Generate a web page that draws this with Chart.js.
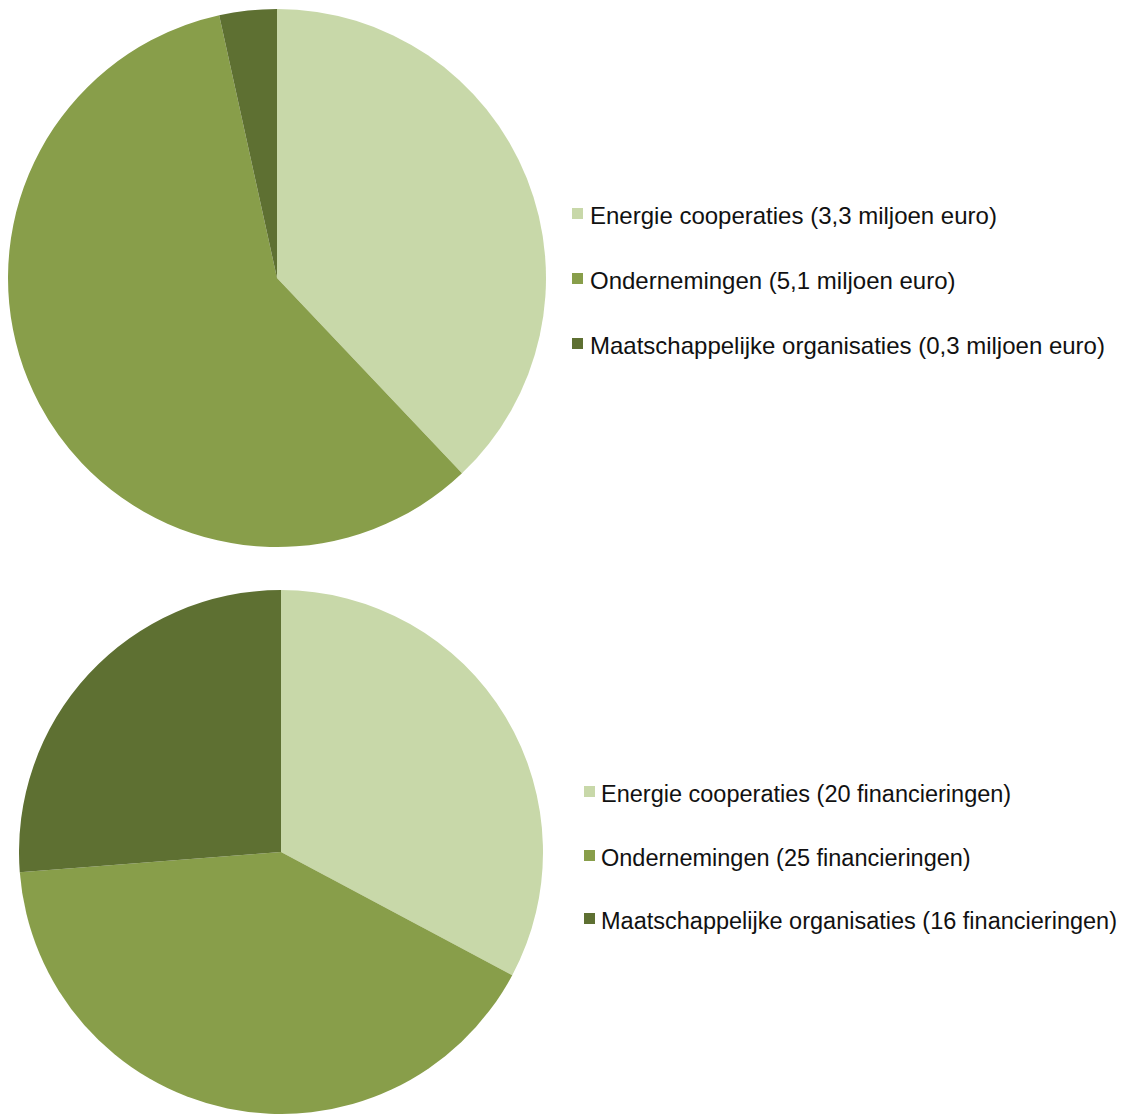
<!DOCTYPE html>
<html>
<head>
<meta charset="utf-8">
<script src="https://cdn.jsdelivr.net/npm/chart.js@4/dist/chart.umd.min.js"></script>
<style>
  html, body { margin: 0; padding: 0; background: #fff; }
  body { width: 1123px; height: 1115px; position: relative; overflow: hidden; }
  canvas { position: absolute; }
  .leg-sw { position: absolute; width: 11px; height: 11px; }
  .leg-tx { position: absolute; font-family: "Liberation Sans", Arial, sans-serif;
            line-height: 24px; color: #111; white-space: nowrap; }
</style>
</head>
<body>
<canvas id="pieAmount" width="538" height="538" style="left:8px; top:9px;"></canvas>
<canvas id="pieCount" width="524" height="524" style="left:19px; top:590px;"></canvas>

<script>
/* Two pie charts: financing amount and number of financings per group */

const categories = ['Energie cooperaties', 'Ondernemingen', 'Maatschappelijke organisaties'];
const amountValues = [3.3, 5.1, 0.3];          // miljoen euro
const amountLabels = ['3,3 miljoen euro', '5,1 miljoen euro', '0,3 miljoen euro'];
const countValues = [20, 25, 16];              // financieringen
const countLabels = ['20 financieringen', '25 financieringen', '16 financieringen'];
const sliceColors = ['#c8d8a9', '#889e4a', '#5e7032'];

// ── Pie helper ────────────────────────────────────────────────────
function makePie(id, values) {
    return new Chart(document.getElementById(id), {
        type: 'pie',
        data: {
            labels: categories,
            datasets: [{ data: values, backgroundColor: sliceColors, borderWidth: 0 }]
        },
        options: {
            responsive: false,
            animation: false,
            layout: { padding: 0 },
            plugins: { legend: { display: false }, tooltip: { enabled: false } }
        }
    });
}

// ── HTML legend next to each pie ─────────────────────────────────
function makeLegend(suffixes, swX, txX, firstBaseline, gap, fontPx) {
    categories.forEach((cat, i) => {
        const base = firstBaseline + i * gap;
        const sw = document.createElement('div');
        sw.className = 'leg-sw';
        sw.style.left = swX + 'px';
        sw.style.top = (base - 16) + 'px';
        sw.style.background = sliceColors[i];
        document.body.appendChild(sw);

        const tx = document.createElement('div');
        tx.className = 'leg-tx';
        tx.style.left = txX + 'px';
        tx.style.top = (base - 20) + 'px';
        tx.style.fontSize = fontPx + 'px';
        tx.textContent = `${cat} (${suffixes[i]})`;
        document.body.appendChild(tx);
    });
}

makePie('pieAmount', amountValues);
makePie('pieCount', countValues);
makeLegend(amountLabels, 572, 590, 224, 65, 24);
makeLegend(countLabels, 584, 601, 802, 63.5, 23.5);
</script>
</body>
</html>
